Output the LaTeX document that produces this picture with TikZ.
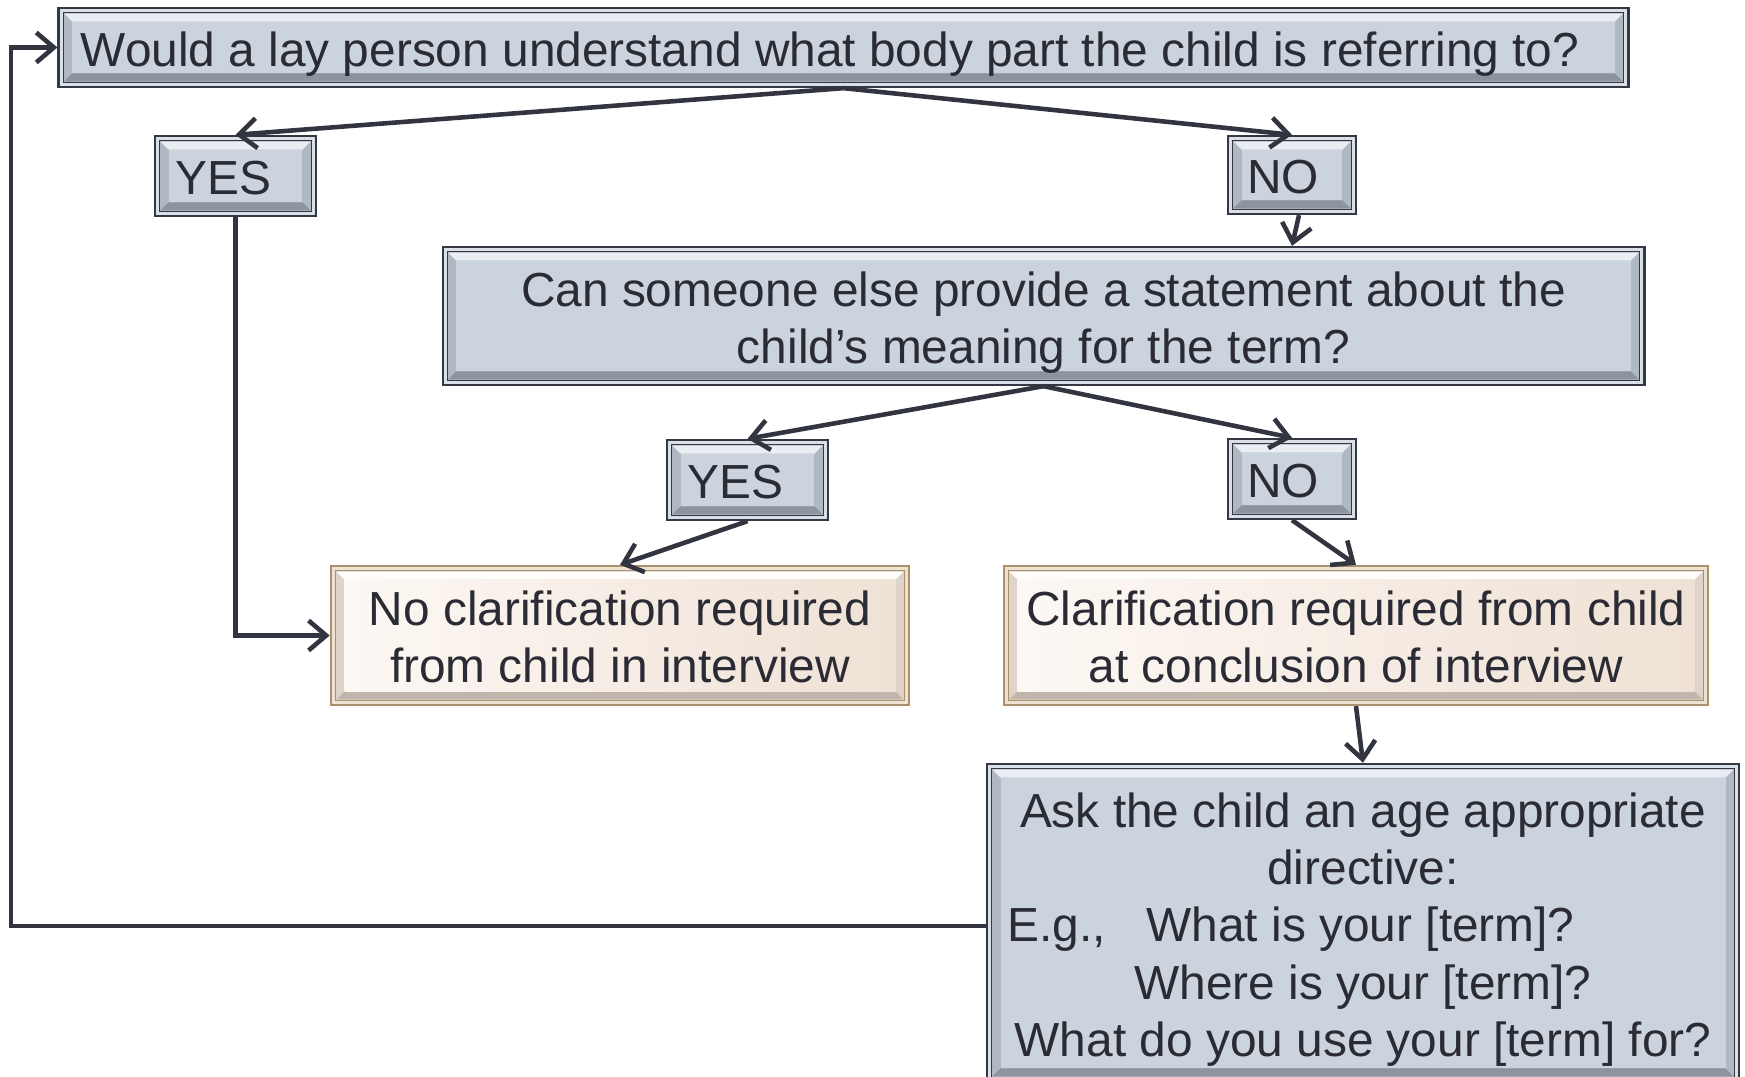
\documentclass[tikz,border=0pt]{standalone}
\usepackage{fontspec}
\setmainfont{Liberation Sans}
\usetikzlibrary{positioning,arrows.meta}

\definecolor{edgecol}{RGB}{50,52,64}
\definecolor{txtcol}{RGB}{42,43,52}
\definecolor{blueface}{RGB}{203,211,221}
\definecolor{bluering}{RGB}{218,224,231}
\definecolor{bluetop}{RGB}{234,238,243}
\definecolor{bluebot}{RGB}{140,148,160}
\definecolor{blueside}{RGB}{176,184,195}
\definecolor{blueline}{RGB}{52,56,66}
\definecolor{peachleft}{RGB}{253,248,244}
\definecolor{peachright}{RGB}{239,225,213}
\definecolor{peachring}{RGB}{238,226,210}
\definecolor{peachtop}{RGB}{255,253,250}
\definecolor{peachbot}{RGB}{192,182,172}
\definecolor{peachside}{RGB}{222,212,202}
\definecolor{peachline}{RGB}{170,144,108}

% strut for the first line of a box
\newcommand{\upstrut}{\rule{0pt}{13.6pt}}

\tikzset{
  bevel/.style n args={5}{path picture={
    \path[#1] (path picture bounding box.south west) rectangle (path picture bounding box.north east);
    \path[#2] ([shift={(1.4pt,1.4pt)}]path picture bounding box.south west) rectangle ([shift={(-1.4pt,-1.4pt)}]path picture bounding box.north east);
    \path[#3] ([shift={(1.6pt,-1.6pt)}]path picture bounding box.north west) -- ([shift={(-1.6pt,-1.6pt)}]path picture bounding box.north east)
      -- ([shift={(-3.9pt,-3.9pt)}]path picture bounding box.north east) -- ([shift={(3.9pt,-3.9pt)}]path picture bounding box.north west) -- cycle;
    \path[#4] ([shift={(1.6pt,1.6pt)}]path picture bounding box.south west) -- ([shift={(-1.6pt,1.6pt)}]path picture bounding box.south east)
      -- ([shift={(-3.9pt,3.9pt)}]path picture bounding box.south east) -- ([shift={(3.9pt,3.9pt)}]path picture bounding box.south west) -- cycle;
    \path[#5] ([shift={(3.9pt,3.9pt)}]path picture bounding box.south west) rectangle ([shift={(-3.9pt,-3.9pt)}]path picture bounding box.north east);
  }}
}

\begin{document}
\begin{tikzpicture}[x=0.01cm, y=-0.01cm,
    font=\fontsize{13.6}{16.3}\selectfont,
    execute at begin node={\upstrut},
    execute at end node={\rule[-2.9pt]{0pt}{0pt}},
    question/.style={rectangle, draw=blueline, line width=0.65pt, inner sep=0pt,
      align=center, text=txtcol,
      bevel={fill=bluering}{fill=blueside,draw=blueline,line width=0.3pt}{fill=bluetop}{fill=bluebot}{fill=blueface}},
    outcome/.style={rectangle, draw=peachline, line width=0.65pt, inner sep=0pt,
      align=center, text=txtcol,
      bevel={fill=peachring}{fill=peachside,draw=peachline,line width=0.3pt}{fill=peachtop}{fill=peachbot}{left color=peachleft,right color=peachright}},
    arr/.style={draw=edgecol, line width=1.3pt, -{Straight Barb[length=5pt,width=8.5pt]}}
    ]
    \clip (0,0) rectangle (1745,1077);

    \node[question, minimum width=15.69cm, minimum height=0.79cm] (q1) at (843.5,47.5)
      {Would a lay person understand what body part the child is referring to?\hspace*{0.27cm}};
    \node[question, minimum width=1.61cm, minimum height=0.80cm] (yes1) at (235.5,176) {YES\hspace*{0.24cm}};
    \node[question, minimum width=1.28cm, minimum height=0.78cm] (no1) at (1292,175) {NO\hspace*{0.18cm}};
    \node[question, minimum width=12.01cm, minimum height=1.38cm] (q2) at (1043.5,316)
      {\upstrut Can someone else provide a statement about the\\child’s meaning for the term?};
    \node[question, minimum width=1.61cm, minimum height=0.80cm] (yes2) at (747.5,480) {YES\hspace*{0.24cm}};
    \node[question, minimum width=1.28cm, minimum height=0.80cm] (no2) at (1292,479) {NO\hspace*{0.18cm}};
    \node[outcome, minimum width=5.78cm, minimum height=1.39cm] (noclar) at (620,635.5)
      {\upstrut No clarification required\\from child in interview};
    \node[outcome, minimum width=7.04cm, minimum height=1.39cm] (clar) at (1356,635.5)
      {\upstrut Clarification required from child\\at conclusion of interview};
    \node[question, minimum width=7.52cm, minimum height=3.18cm] (ask) at (1363,923)
      {\upstrut Ask the child an age appropriate\\directive:\\
       \makebox[6.95cm][l]{\hspace*{-0.08cm}E.g.,\hspace*{0.41cm}What is your [term]?}\\
       Where is your [term]?\\What do you use your [term] for?};
    \coordinate (back) at (11,926);

    \draw[arr] (q1.south) -- (yes1.north);
    \draw[arr] (q1.south) -- (no1.north);
    \draw[arr] ([xshift=0.07cm]no1.south) -- (q2.north -| no1);
    \draw[arr] (q2.south) -- (yes2.north);
    \draw[arr] (q2.south) -- (no2.north);
    \draw[arr] (yes2.south) -- (noclar.north);
    \draw[arr] (no2.south) -- (clar.north);
    \draw[arr] (clar.south) -- (ask.north);
    \draw[arr] (yes1.south) |- (noclar.west);
    \draw[arr] (ask.west |- back) -- (back) |- (q1.west);
\end{tikzpicture}
\end{document}
